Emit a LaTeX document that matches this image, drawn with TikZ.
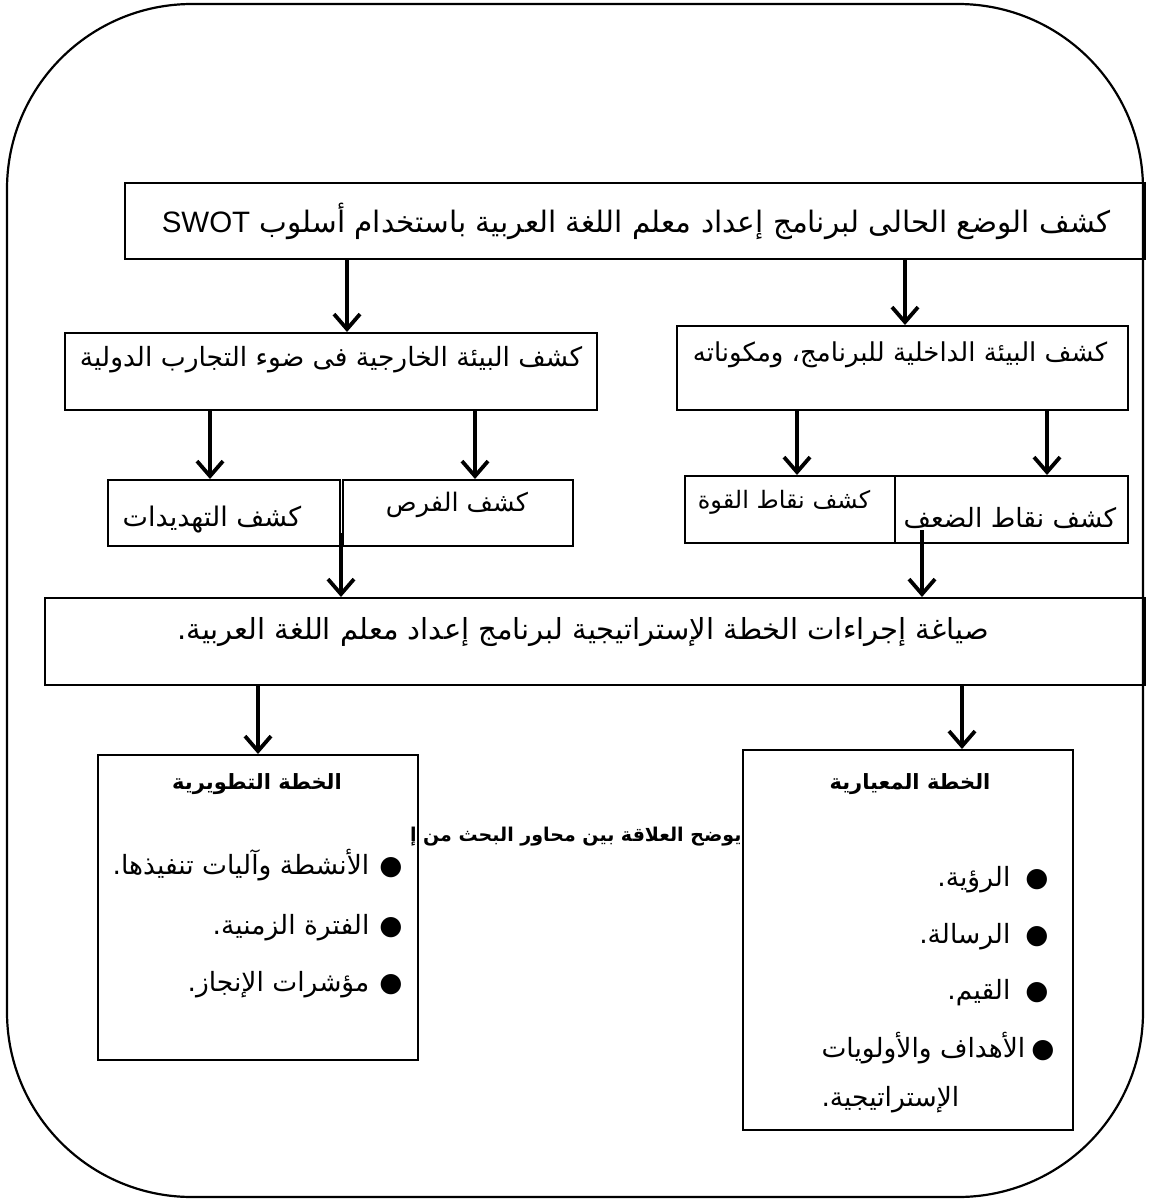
\documentclass[tikz,border=0pt]{standalone}
\usepackage{fontspec}
\setmainfont{Liberation Sans}
\newfontfamily\arabicfont[Script=Arabic]{DejaVu Sans}
\TeXXeTstate=1
\usetikzlibrary{arrows.meta}
\newcommand{\ar}[1]{{\arabicfont\beginR #1\endR}}
\newcommand{\fs}[1]{\fontsize{#1}{1.2\dimexpr#1pt\relax}\selectfont}

\begin{document}
\begin{tikzpicture}[x=1pt, y=-1pt,
  box/.style={draw, line width=2pt, inner sep=0pt},
  arr/.style={line width=3.8pt, -{Straight Barb[length=15pt, width=26pt, line width=3.8pt]}},
  item/.style={font=\fs{26.5}, anchor=east},
  head/.style={font=\bfseries\fs{21}}]
  \useasboundingbox (0,0) rectangle (1148,1201);

  % outer frame
  \draw[line width=2.2pt, rounded corners=185pt] (7,4) rectangle (1143,1197);

  % boxes
  \node[box, minimum width=1020pt, minimum height=76pt] (top) at (635,221) {};
  \node[box, minimum width=532pt, minimum height=77pt] (ext) at (331,371.5) {};
  \node[box, minimum width=451pt, minimum height=84pt] (int) at (902.5,368) {};
  \node[box, minimum width=232pt, minimum height=66pt] (threat) at (224,513) {};
  \node[box, minimum width=230pt, minimum height=66pt] (opp) at (458,513) {};
  \node[box, minimum width=210pt, minimum height=67pt] (str) at (790,509.5) {};
  \node[box, minimum width=233pt, minimum height=67pt] (weak) at (1011.5,509.5) {};
  \node[box, minimum width=1100pt, minimum height=87pt] (strat) at (595,641.5) {};
  \node[box, minimum width=320pt, minimum height=305pt] (dev) at (258,907.5) {};
  \node[box, minimum width=330pt, minimum height=380pt] (norm) at (908,940) {};

  % texts
  \node[font=\fs{29.5}] (topT) at (636,221) {\ar{كشف الوضع الحالى لبرنامج إعداد معلم اللغة العربية باستخدام أسلوب \beginL{\rmfamily SWOT}\endL}};
  \node[font=\fs{26.5}] (extT) at (331,360) {\ar{كشف البيئة الخارجية فى ضوء التجارب الدولية}};
  \node[font=\fs{26}] (intT) at (900,355) {\ar{كشف البيئة الداخلية للبرنامج، ومكوناته}};
  \node[font=\fs{27}] (threatT) at (212,520) {\ar{كشف التهديدات}};
  \node[font=\fs{25.5}] (oppT) at (457,505) {\ar{كشف الفرص}};
  \node[font=\fs{24}] (strT) at (784,502) {\ar{كشف نقاط القوة}};
  \node[font=\fs{26.5}] (weakT) at (1010,518) {\ar{كشف نقاط الضعف}};
  \node[font=\fs{29}] (stratT) at (583,632) {\ar{صياغة إجراءات الخطة الإستراتيجية لبرنامج إعداد معلم اللغة العربية.}};

  \node[head] (devH) at (257,784) {\ar{الخطة التطويرية}};
  \node[item] (dev1) at (406,865) {\ar{●\hspace{10pt}الأنشطة وآليات تنفيذها.}};
  \node[item] (dev2) at (406,928) {\ar{●\hspace{10pt}الفترة الزمنية.}};
  \node[item] (dev3) at (406,985) {\ar{●\hspace{10pt}مؤشرات الإنجاز.}};

  \node[head] (normH) at (910,784) {\ar{الخطة المعيارية}};
  \node[item] (norm1) at (1052,880) {\ar{●\hspace{15pt}الرؤية.}};
  \node[item] (norm2) at (1052,937) {\ar{●\hspace{15pt}الرسالة.}};
  \node[item] (norm3) at (1052,993) {\ar{●\hspace{15pt}القيم.}};
  \node[item] (norm4) at (1058,1048) {\ar{●\hspace{6pt}الأهداف والأولويات}};
  \node[font=\fs{26.5}, anchor=west] (norm5) at (818,1100) {\ar{الإستراتيجية.}};

  \node[font=\bfseries\fs{19}, anchor=east] (cap) at (745,837) {\ar{يوضح العلاقة بين محاور البحث من إ}};

  % arrow positions
  \coordinate (a1) at (347,0);
  \coordinate (a2) at (905,0);
  \coordinate (a3) at (210,0);
  \coordinate (a4) at (475,0);
  \coordinate (a5) at (797,0);
  \coordinate (a6) at (1047,0);
  \coordinate (a7) at (922,0);
  \coordinate (a8) at (962,0);

  % arrows
  \draw[arr] (top.south -| a1) -- (ext.north -| a1);
  \draw[arr] (top.south -| a2) -- (int.north -| a2);
  \draw[arr] (ext.south -| a3) -- (threat.north -| a3);
  \draw[arr] (ext.south -| a4) -- (opp.north -| a4);
  \draw[arr] (int.south -| a5) -- (str.north -| a5);
  \draw[arr] (int.south -| a6) -- (weak.north -| a6);
  \draw[arr] ([yshift=14pt]threat.south east) -- (strat.north -| threat.east);
  \draw[arr] ([yshift=14pt]weak.south -| a7) -- (strat.north -| a7);
  \draw[arr] (strat.south -| dev.north) -- (dev.north);
  \draw[arr] (strat.south -| a8) -- (norm.north -| a8);
\end{tikzpicture}
\end{document}
